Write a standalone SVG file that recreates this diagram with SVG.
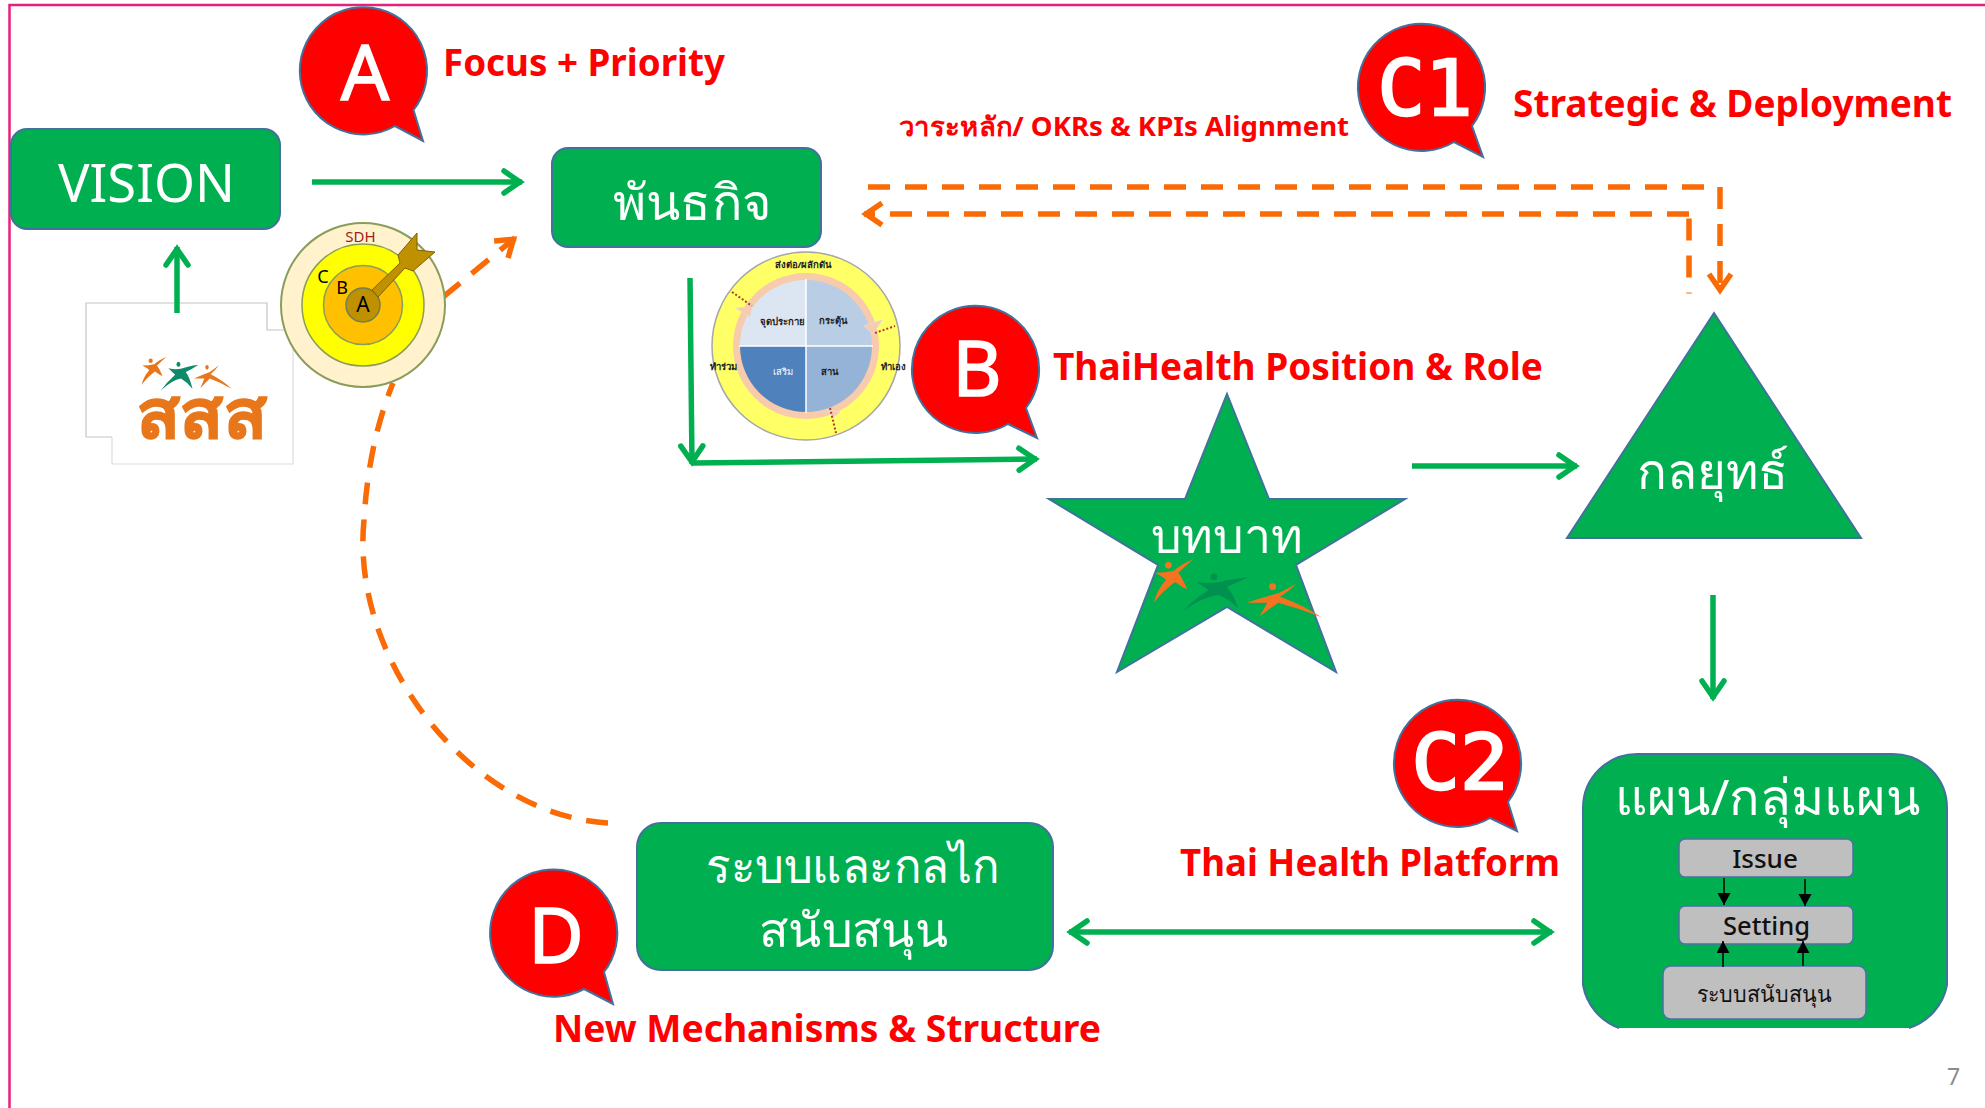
<svg xmlns="http://www.w3.org/2000/svg" width="1985" height="1108" viewBox="0 0 1985 1108">
<style>
text{font-family:"Noto Sans","Open Sans","DejaVu Sans",sans-serif}
.box{fill:#00b050;stroke:#41719c;stroke-width:2}
.bub{fill:#ff0000;stroke:#41719c;stroke-width:2}
.bl{fill:#fff;stroke:#fff;stroke-width:1.5;font-size:76px;text-anchor:middle}
.mono{font-family:"DejaVu Sans Mono","Liberation Mono",monospace;stroke-width:2.5}
.wt{fill:#fff;text-anchor:middle}
.rd{fill:#ff0000;font-weight:700;font-size:38px}
.gl{fill:none;stroke:#00b050;stroke-width:5.5}
.or{fill:none;stroke:#fa6a05;stroke-width:5.5;stroke-dasharray:22 15}
.gy{fill:#bfbfbf;stroke:#4f6ea8;stroke-width:1.5}
.bk{stroke:#000;stroke-width:1.5;fill:none}
.dot{stroke:#b03a2e;stroke-width:2;stroke-dasharray:2 2;fill:none}
.sm{font-size:9.5px;font-weight:700;fill:#222;text-anchor:middle}
</style>
<defs>
<marker id="ga" markerUnits="userSpaceOnUse" markerWidth="32" markerHeight="30" refX="25" refY="15" orient="auto-start-reverse"><path d="M7,4 L23,15 L7,26" fill="none" stroke="#00b050" stroke-width="5.5" stroke-linecap="round"/></marker>
<marker id="oa" markerUnits="userSpaceOnUse" markerWidth="32" markerHeight="30" refX="26" refY="15" orient="auto"><path d="M8,4 L24,15 L8,26" fill="none" stroke="#fa6a05" stroke-width="5.5"/></marker>
<marker id="ka" markerUnits="userSpaceOnUse" markerWidth="14" markerHeight="14" refX="12" refY="6.5" orient="auto"><path d="M0,0 L12,6.5 L0,13 Z" fill="#000"/></marker>
<g id="p1"><circle cx="415" cy="556" r="10"/><path d="M490,537 Q450,555 432,572 Q405,578 375,578 L400,592 L408,600 Q380,630 372,668 Q400,630 436,606 Q455,622 472,628 Q455,590 445,578 Q470,555 490,537 Z"/></g>
<g id="p2"><circle cx="552" cy="590" r="10"/><path d="M655,592 Q600,598 570,606 Q535,612 500,605 Q520,620 535,630 Q490,660 460,692 Q520,650 565,645 Q600,660 625,685 Q610,640 590,620 Q625,608 655,592Z"/></g>
<g id="p3"><circle cx="728" cy="620" r="10"/><path d="M798,612 Q765,630 745,640 Q700,652 650,668 Q685,668 712,668 Q700,690 688,710 Q720,685 745,668 Q810,685 875,712 Q820,675 750,650 Q775,635 798,612Z"/></g>
</defs>
<rect width="1985" height="1108" fill="#fff"/>
<path d="M9.5,1108 V5 H1985" fill="none" stroke="#e6207d" stroke-width="2.5"/>

<g id="logo">
<rect x="86" y="303" width="181" height="134" fill="#fff"/>
<rect x="112" y="330" width="181" height="134" fill="#fff"/>
<path d="M112,437 H86 V303 H267 V330 H285" fill="none" stroke="#c4c4c4" stroke-width="1.2"/>
<path d="M112,437 V464 H293 V330" fill="none" stroke="#dcdcdc" stroke-width="1.2"/>
<g transform="translate(60,200) scale(.3333)">
<use href="#p1" fill="#e8761a" transform="translate(245,470) scale(.63 .65) translate(-372,-537)"/>
<use href="#p2" fill="#0f8a6a" transform="translate(302,485) scale(.58 .78) translate(-460,-580)"/>
<use href="#p3" fill="#e8761a" transform="translate(402,495) scale(.5 .7) translate(-650,-610)"/>
</g>
<text x="202" y="438" font-size="68" font-weight="700" fill="#e8761a" stroke="#e8761a" stroke-width="1.5" text-anchor="middle" textLength="130" lengthAdjust="spacingAndGlyphs">สสส</text>
</g>

<g id="connectors">
<path class="gl" d="M312,182 H522" marker-end="url(#ga)"/>
<path class="gl" d="M177,313 V247" marker-end="url(#ga)"/>
<path class="gl" d="M690,278 L692,464" marker-end="url(#ga)"/>
<path class="gl" d="M692,463 L1037,459" marker-end="url(#ga)"/>
<path class="gl" d="M1412,466 H1577" marker-end="url(#ga)"/>
<path class="gl" d="M1713,595 V699" marker-end="url(#ga)"/>
<path class="gl" d="M1069,932 H1552" marker-start="url(#ga)" marker-end="url(#ga)"/>
<path class="or" d="M868,187 H1716"/>
<path class="or" d="M1720,187 V292" marker-end="url(#oa)"/>
<path class="or" d="M1689,293.5 V218" stroke-dashoffset="21"/>
<path class="or" d="M1689,214 H864" marker-end="url(#oa)"/>
<path class="or" d="M608,823 C470,815 350,660 364,520 C367,470 376,425 393,383"/>
<path class="or" d="M443,297 L515,238" marker-end="url(#oa)"/>
</g>

<g id="target">
<circle cx="363" cy="305" r="82" fill="#fff2cc" stroke="#8a9d5b" stroke-width="2"/>
<circle cx="363" cy="305" r="61" fill="#ffff00" stroke="#8a9d5b" stroke-width="1.5"/>
<circle cx="363" cy="305" r="39.5" fill="#ffc000" stroke="#8a9d5b" stroke-width="1.5"/>
<circle cx="363" cy="305" r="17" fill="#bf9000" stroke="#6f7f4f" stroke-width="1.5"/>
<path d="M372,290 L400,263 L398,255 L417,233 L417,250 L435,252 L413,271 L405,268 L378,297 Z" fill="#bf9000" stroke="#7f6000" stroke-width="1"/>
<text x="360.5" y="242" font-size="15" fill="#a51c1c" text-anchor="middle">SDH</text>
<text x="323" y="283" font-size="18" fill="#000" text-anchor="middle">C</text>
<text x="342" y="294" font-size="18" fill="#000" text-anchor="middle">B</text>
<text x="363" y="312" font-size="21" fill="#000" text-anchor="middle">A</text>
</g>

<g id="wheel">
<circle cx="806" cy="346" r="94" fill="#ffff66" stroke="#a6a6a6" stroke-width="1.5"/>
<circle cx="806" cy="346" r="73" fill="#f8cbad"/>
<path d="M806,346 V280 A66,66 0 0 0 740,346 Z" fill="#dce6f2"/>
<path d="M806,346 V280 A66,66 0 0 1 872,346 Z" fill="#b9cde5"/>
<path d="M806,346 H740 A66,66 0 0 0 806,412 Z" fill="#4f81bd"/>
<path d="M806,346 V412 A66,66 0 0 0 872,346 Z" fill="#95b3d7"/>
<path d="M806,279 V413 M739,346 H873" stroke="#fff" stroke-width="1.5"/>
<path d="M736,308 L752,307 L750,317 Z M882,320 L864,326 L873,334 Z M826,410 L840,412 L834,417 Z" fill="#f8cbad" stroke="#ddd" stroke-width=".8"/>
<path class="dot" d="M732,292 L752,306 M875,333 L895,326 M830,408 L836,433"/>
<text class="sm" x="803" y="268">ส่งต่อ/ผลักดัน</text>
<text class="sm" x="782" y="325">จุดประกาย</text>
<text class="sm" x="833" y="324">กระตุ้น</text>
<text class="sm" x="783" y="375" style="fill:#fff;font-weight:400">เสริม</text>
<text class="sm" x="829" y="375">สาน</text>
<text class="sm" x="723" y="370">ทำร่วม</text>
<text class="sm" x="893" y="370">ทำเอง</text>
</g>

<g id="vision"><rect class="box" x="11" y="129" width="269" height="100" rx="16"/>
<text class="wt" x="146.5" y="202" font-size="52" textLength="177" lengthAdjust="spacingAndGlyphs">VISION</text></g>
<g id="mission"><rect class="box" x="552" y="148" width="269" height="99" rx="16"/>
<text class="wt" x="692" y="220" font-size="50" textLength="158" lengthAdjust="spacingAndGlyphs">พันธกิจ</text></g>

<g id="bubbleA"><path class="bub" d="M395,126 A63.6,63.6 0 1 1 413.5,110 L423,141 Z"/><text class="bl" x="365" y="100">A</text></g>
<g id="bubbleC1"><path class="bub" d="M1454,142 A63.6,63.6 0 1 1 1472,126 L1483,157 Z"/><text class="bl mono" x="1425" y="115" textLength="95" lengthAdjust="spacingAndGlyphs">C1</text></g>
<g id="bubbleB"><path class="bub" d="M1008,424 A63.6,63.6 0 1 1 1026,408 L1037,438 Z"/><text class="bl" x="977" y="396">B</text></g>
<g id="bubbleC2"><path class="bub" d="M1490,818 A63.6,63.6 0 1 1 1508,802 L1517,831 Z"/><text class="bl mono" x="1460" y="789" textLength="97" lengthAdjust="spacingAndGlyphs">C2</text></g>
<g id="bubbleD"><path class="bub" d="M584,989 A63.6,63.6 0 1 1 604,972 L613,1004 Z"/><text class="bl" x="556" y="963">D</text></g>

<g id="star"><path class="box" d="M1227,394 L1269,499 H1405 L1296,565 L1336,672 L1227,607 L1117,672 L1158,565 L1049,499 H1185 Z"/>
<text class="wt" x="1227" y="553" font-size="48" textLength="152" lengthAdjust="spacingAndGlyphs">บทบาท</text>
<g transform="translate(1030,380) scale(.3333)"><use href="#p1" fill="#f47321"/><use href="#p2" fill="#009150"/><use href="#p3" fill="#f47321"/></g></g>

<g id="strategy"><path class="box" d="M1714,313 L1861,538 H1567 Z"/>
<text class="wt" x="1713" y="489" font-size="50" textLength="152" lengthAdjust="spacingAndGlyphs">กลยุทธ์</text></g>

<g id="plan"><path fill="#00b050" d="M1619,1028 A56,56 0 0 1 1583,985 V808 A54,54 0 0 1 1637,754 H1893 A54,54 0 0 1 1947,808 V985 A56,56 0 0 1 1909,1028 Z"/>
<path fill="none" stroke="#41719c" stroke-width="2" d="M1619,1028 A56,56 0 0 1 1583,985 V808 A54,54 0 0 1 1637,754 H1893 A54,54 0 0 1 1947,808 V985 A56,56 0 0 1 1909,1028"/>
<text class="wt" x="1767.5" y="815" font-size="50" textLength="305" lengthAdjust="spacingAndGlyphs">แผน/กลุ่มแผน</text>
<rect class="gy" x="1679" y="839" width="174" height="38" rx="6"/>
<rect class="gy" x="1679" y="906" width="174" height="38" rx="6"/>
<rect class="gy" x="1663" y="966" width="203" height="53" rx="8"/>
<text x="1765" y="868" font-size="26" font-weight="500" text-anchor="middle" fill="#111">Issue</text>
<text x="1766.5" y="935" font-size="26" font-weight="500" text-anchor="middle" fill="#111" textLength="87" lengthAdjust="spacingAndGlyphs">Setting</text>
<text x="1764.5" y="1002" font-size="23" text-anchor="middle" fill="#111" textLength="135" lengthAdjust="spacingAndGlyphs">ระบบสนับสนุน</text>
<path class="bk" d="M1724,878 V905" marker-end="url(#ka)"/>
<path class="bk" d="M1805,879 V906" marker-end="url(#ka)"/>
<path class="bk" d="M1723,967 V941" marker-end="url(#ka)"/>
<path class="bk" d="M1803,966 V941" marker-end="url(#ka)"/></g>

<g id="support"><rect class="box" x="637" y="823" width="416" height="147" rx="24"/>
<text class="wt" x="852.5" y="883" font-size="48" textLength="293" lengthAdjust="spacingAndGlyphs">ระบบและกลไก</text>
<text class="wt" x="853.5" y="947" font-size="48" textLength="189" lengthAdjust="spacingAndGlyphs">สนับสนุน</text></g>

<g id="labels">
<text class="rd" x="443" y="76" textLength="282" lengthAdjust="spacingAndGlyphs">Focus + Priority</text>
<text class="rd" x="1513" y="117" textLength="439" lengthAdjust="spacingAndGlyphs">Strategic &amp; Deployment</text>
<text class="rd" x="899" y="136" style="font-size:27px" textLength="450" lengthAdjust="spacingAndGlyphs">วาระหลัก/ OKRs &amp; KPIs Alignment</text>
<text class="rd" x="1053" y="380" textLength="490" lengthAdjust="spacingAndGlyphs">ThaiHealth Position &amp; Role</text>
<text class="rd" x="1180" y="876" textLength="380" lengthAdjust="spacingAndGlyphs">Thai Health Platform</text>
<text class="rd" x="553" y="1042" textLength="548" lengthAdjust="spacingAndGlyphs">New Mechanisms &amp; Structure</text>
<text x="1947" y="1085" font-size="23" fill="#8c8c8c">7</text>
</g>
</svg>
